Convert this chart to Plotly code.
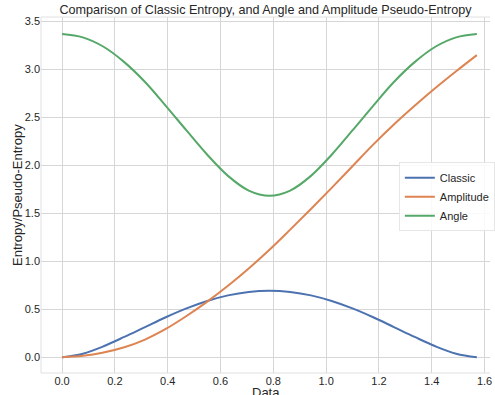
import plotly.graph_objects as go

# Sample positions along the data axis (0 .. pi/2, evenly spaced)
data_x = [0.0, 0.0785, 0.1571, 0.2356, 0.3142, 0.3927, 0.4712, 0.5498, 0.6283, 0.7069, 0.7854,
          0.8639, 0.9425, 1.0210, 1.0996, 1.1781, 1.2566, 1.3352, 1.4137, 1.4923, 1.5708]

classic = [0.0, 0.038, 0.115, 0.212, 0.315, 0.417, 0.509, 0.586, 0.645, 0.681, 0.693,
           0.681, 0.645, 0.586, 0.509, 0.417, 0.315, 0.212, 0.115, 0.038, 0.0]
amplitude = [0.0, 0.015, 0.05, 0.105, 0.185, 0.295, 0.43, 0.58, 0.745, 0.925, 1.12,
             1.33, 1.545, 1.765, 1.99, 2.215, 2.425, 2.62, 2.805, 2.98, 3.148]
angle = [3.368, 3.333, 3.235, 3.075, 2.868, 2.62, 2.363, 2.11, 1.89, 1.737, 1.683,
         1.737, 1.89, 2.11, 2.363, 2.62, 2.868, 3.075, 3.235, 3.333, 3.368]

x_ticks = [0.0, 0.2, 0.4, 0.6, 0.8, 1.0, 1.2, 1.4, 1.6]
y_ticks = [0.0, 0.5, 1.0, 1.5, 2.0, 2.5, 3.0, 3.5]

FONT = "Arial, 'Liberation Sans', sans-serif"
TEXT = "#262626"
GRID = "#d6d6d6"

fig = go.Figure()
for name, ys, color in [("Classic", classic, "#4c72b0"),
                        ("Amplitude", amplitude, "#dd8452"),
                        ("Angle", angle, "#55a868")]:
    fig.add_trace(go.Scatter(x=data_x, y=ys, mode="lines", name=name,
                             line=dict(color=color, width=2, shape="spline", smoothing=1.0)))

fig.update_layout(
    width=495, height=395,
    margin=dict(l=41, r=0, t=17, b=22),
    paper_bgcolor="white", plot_bgcolor="white",
    font=dict(family=FONT, color=TEXT, size=11),
    showlegend=True,
    legend=dict(x=0.797, y=0.592, xanchor="left", yanchor="top",
                bgcolor="rgba(255,255,255,0.85)", bordercolor="#e6e6e6", borderwidth=1,
                font=dict(size=11, color=TEXT), tracegroupgap=0, itemwidth=30),
    title=dict(text="Comparison of Classic Entropy, and Angle and Amplitude Pseudo-Entropy",
               x=0.5, xref="paper", xanchor="center", y=1.0, yref="container", yanchor="top",
               pad=dict(t=5), font=dict(size=12.6, color=TEXT)),
    xaxis=dict(range=[-0.0798, 1.6206], tickvals=x_ticks, ticktext=[f"{v:.1f}" for v in x_ticks],
               showgrid=True, gridcolor=GRID, gridwidth=1, zeroline=False, ticklabeloverflow="allow",
               showline=False, ticks="", ticklen=0, tickfont=dict(size=11, color=TEXT)),
    yaxis=dict(range=[-0.1635, 3.545], tickvals=y_ticks, ticktext=[f"{v:.1f}" for v in y_ticks],
               showgrid=True, gridcolor=GRID, gridwidth=1, zeroline=False,
               showline=False, ticks="", ticklen=0, tickfont=dict(size=11, color=TEXT)),
)

# Light frame on the left, top and bottom edges of the axes
for x0, y0, x1, y1 in [(0, 0, 0, 1), (0, 1, 1, 1), (0, 0, 1, 0)]:
    fig.add_shape(type="line", xref="paper", yref="paper", x0=x0, y0=y0, x1=x1, y1=y1,
                  line=dict(color="#e0e0e0", width=1))

fig.add_annotation(text="Data", xref="paper", yref="paper", x=0.5, y=-0.056,
                   xanchor="center", yanchor="middle", showarrow=False,
                   font=dict(size=13, color=TEXT, family=FONT))
fig.add_annotation(text="Entropy/Pseudo-Entropy", xref="paper", yref="paper", x=-0.0535, y=0.5,
                   xanchor="center", yanchor="middle", showarrow=False, textangle=-90,
                   font=dict(size=13, color=TEXT, family=FONT))

fig.write_html("out.html")
